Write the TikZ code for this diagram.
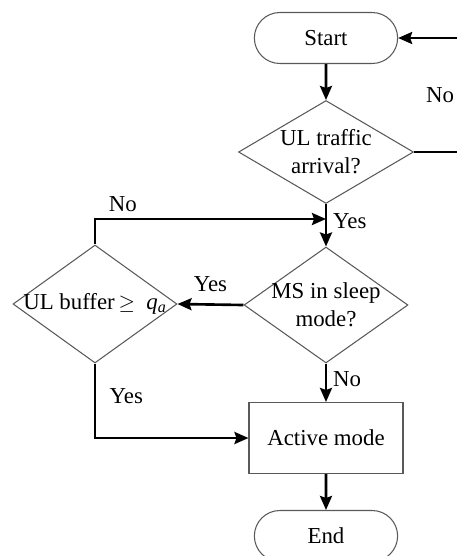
\documentclass[tikz,border=0pt]{standalone}
\usepackage{fontspec}
\setmainfont{Liberation Serif}
\usetikzlibrary{shapes.geometric,shapes.misc,arrows.meta}

\begin{document}
\begin{tikzpicture}[x=0.02cm, y=-0.02cm,
		font=\fontsize{13}{16}\selectfont,
		terminal/.style={rounded rectangle, draw=black!65, line width=0.6pt, minimum width=3.1cm, minimum height=1.02cm},
		decision/.style={diamond, draw=black!65, line width=0.6pt, inner sep=0pt},
		proceso/.style={rectangle, draw=black!65, line width=0.6pt, minimum width=3.08cm, minimum height=1.42cm},
		flecha/.style={line width=1.5pt, -{Stealth[length=0.28cm, width=0.24cm, inset=0.04cm]}},
		linea/.style={line width=1.5pt}]
		% marco de la figura
		\clip (0, 0) rectangle (457, 556);

		% bloques del diagrama
		\node[terminal] (inicio) at (326, 38) {Start};
		\node[decision, minimum width=3.5cm, minimum height=2.06cm,
			label={[align=center]center:UL traffic\\arrival?}] (llegada) at (326, 152) {};
		\node[decision, minimum width=3.28cm, minimum height=2.32cm,
			label={[align=center]center:MS in sleep\\mode?}] (dormido) at (326, 305) {};
		\node[decision, minimum width=3.28cm, minimum height=2.36cm,
			label={center:UL buffer\,$\geq$\ \ \textit{q}\textsubscript{\textit{a}}}] (bufer) at (95, 304) {};
		\node[proceso] (activo) at (326, 438) {Active mode};
		\node[terminal] (fin) at (326, 536) {End};

		% puntos auxiliares
		\coordinate (vuelta) at (475, 152); % fuera del marco
		\coordinate (union) at (326, 219);
		\node (etiqueta) at (440, 95) {No};

		% conectores
		\draw[flecha] (inicio) -- (llegada);
		\draw[flecha] (llegada.east) -- (vuelta) |- (inicio.east);
		\draw[flecha] (llegada) -- node[pos=0.4, right] {Yes} (dormido);
		\draw[flecha] (bufer.north) |- node[pos=0.56, above] {No} (union);
		\draw[flecha] (dormido.west) -- node[above=0.12cm] {Yes} (bufer.east);
		\draw[flecha] (dormido) -- node[pos=0.4, right] {No} (activo);
		\draw[flecha] (bufer.south) |- node[pos=0.22, right=0.15cm] {Yes} (activo.west);
		\draw[flecha] (activo) -- (fin);
	\end{tikzpicture}
\end{document}
